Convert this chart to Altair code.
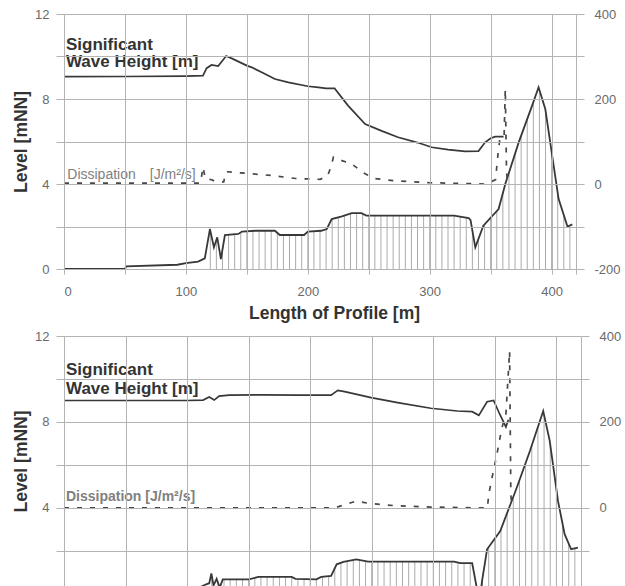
import altair as alt
import pandas as pd

# ---------------- data ----------------
# upper panel: bed level [mNN]
top_bed_x = [0, 50, 51, 93, 100, 110, 115.5, 119.7, 123, 125.7, 128.7, 132, 143, 146, 157, 173, 177,
             197, 200, 211, 215.5, 219.6, 228, 236, 244, 248, 320, 332, 333.5, 337.4, 344, 356.5, 362,
             373, 384, 389.3, 394.8, 405.7, 413, 417]
top_bed_z = [0, 0, 0.12, 0.2, 0.28, 0.35, 0.5, 1.88, 1.02, 1.49, 0.47, 1.6, 1.65, 1.76, 1.8, 1.8, 1.6,
             1.6, 1.76, 1.8, 1.88, 2.35, 2.48, 2.63, 2.63, 2.51, 2.51, 2.4, 2.3, 1.02, 2.04, 2.82, 4.0,
             5.96, 7.69, 8.55, 7.53, 3.3, 2.0, 2.1]
# upper panel: significant wave height line (plotted on level axis)
top_wave_x = [0, 50, 100, 114, 117, 121, 126.5, 133, 138, 150, 154, 165, 173, 184, 200, 208.6, 215,
              222, 233, 247, 260.5, 274, 290, 301.6, 315, 329, 340, 345.5, 350, 353.7, 360.6]
top_wave_h = [9.05, 9.06, 9.08, 9.1, 9.45, 9.6, 9.55, 10.02, 9.9, 9.57, 9.49, 9.18, 8.94, 8.78, 8.6,
              8.55, 8.5, 8.5, 7.69, 6.82, 6.5, 6.2, 5.95, 5.73, 5.62, 5.54, 5.55, 5.96, 6.15, 6.23, 6.23]
# upper panel: dissipation [J/m2/s] (right axis)
top_diss_x = [0, 50, 100, 112, 114, 116, 121, 125, 131, 133, 150, 170, 190, 200, 210, 216, 219, 221,
              228, 236, 247, 255, 270, 300, 330, 345, 350, 354, 356, 357.5, 361, 362, 363, 364]
top_diss_j = [2, 2, 2, 2, 40, 12, 10, 5, 5, 29, 25, 20, 13, 12, 11, 18, 40, 63, 55, 47, 24, 13, 8, 3,
              1, 0, 5, 10, 70, 106, 110, 223, 30, 0]

# lower panel
bot_bed_x = [0, 50, 51, 100, 110, 115.5, 118, 119.7, 121.5, 124, 126.5, 129, 150, 158, 185, 188, 205,
             209, 217, 221.5, 227, 237.5, 247, 316.8, 322, 331.6, 335.6, 337.5, 339.6, 343.7, 354.4,
             367.8, 378.5, 389.3, 394.6, 401.3, 406.7, 412, 417.5]
bot_bed_z = [0, 0, 0.1, 0.2, 0.3, 0.45, 0.5, 0.95, 0.4, 0.7, 0.3, 0.68, 0.68, 0.79, 0.79, 0.7, 0.68,
             0.79, 0.84, 1.38, 1.49, 1.61, 1.5, 1.5, 1.43, 1.43, 0.2, -0.4, 0.6, 2.08, 2.93,
             4.94, 6.65, 8.51, 7.12, 4.33, 2.78, 2.08, 2.15]
bot_wave_x = [0, 50, 100, 113, 118, 122, 126, 134, 160, 190, 217, 222.4, 228, 249.5, 271, 298, 319.5,
              331.6, 337, 343.7, 349, 354, 359, 361]
bot_wave_h = [9.0, 9.0, 9.0, 9.02, 9.16, 9.02, 9.2, 9.25, 9.26, 9.25, 9.25, 9.47, 9.41, 9.13, 8.9, 8.64,
              8.51, 8.48, 8.31, 8.94, 9.0, 8.36, 7.77, 8.1]
bot_diss_x = [0, 100, 200, 215, 223, 237.5, 247, 270, 300, 340, 344, 345, 347.7, 351.7, 355.7, 359,
              362, 363, 364]
bot_diss_j = [0, 0, 0, 0, 3, 16, 11, 5, 2, 0, 0, 31, 70, 125, 186, 218, 365, 30, 0]

x_grid = [0, 50, 100, 150, 200, 250, 300, 350, 400, 420]
level_ticks = [0, 2, 4, 6, 8, 10, 12]
diss_ticks = [-200, -100, 0, 100, 200, 300, 400]

# ---------------- styling ----------------
FONT = "Liberation Sans"
GRID = "#b3b3b3"
LINE = "#383838"
LABEL = "#6a6a6a"
TITLE = "#333333"


def panel(bed_x, bed_z, wave_x, wave_h, diss_x, diss_j, ymin, height, width, is_top):
    bed = pd.DataFrame({"x": bed_x, "z": bed_z})
    wave = pd.DataFrame({"x": wave_x, "h": wave_h})
    diss = pd.DataFrame({"x": diss_x, "j": diss_j})

    xs = alt.Scale(domain=[0, 420], nice=False, zero=False)
    ys = alt.Scale(domain=[ymin, 12], nice=False, zero=False)
    js = alt.Scale(domain=[-200 + ymin * 50, 400], nice=False, zero=False)

    if is_top:
        xaxis = alt.Axis(values=x_grid,
                         labelExpr="(datum.value % 100 == 0 && datum.value <= 400) ? datum.label : ''",
                         grid=True, gridColor=GRID, tickColor=GRID, tickSize=5, domain=False,
                         labelFont=FONT, labelFontSize=13, labelColor=LABEL, labelPadding=11,
                         title="Length of Profile [m]", titleFont=FONT, titleFontSize=17.5,
                         titleFontWeight="bold", titleColor=TITLE, titlePadding=6, titleX=270,
                         zindex=1)
    else:
        xaxis = alt.Axis(values=x_grid, labels=False, ticks=False, domain=False, grid=True,
                         gridColor=GRID, title=None, zindex=1)

    yaxis = alt.Axis(values=level_ticks,
                     labelExpr="datum.value % 4 == 0 ? datum.label : ''",
                     grid=True, gridColor=GRID, tickColor=GRID, tickSize=8, domain=False,
                     labelFont=FONT, labelFontSize=13, labelColor=LABEL, labelPadding=7,
                     title="Level [mNN]", titleFont=FONT, titleFontSize=17.5, titleFontWeight="bold",
                     titleColor=TITLE, titlePadding=4, zindex=1)

    jaxis = alt.Axis(orient="right", values=diss_ticks,
                     labelExpr="datum.value % 200 == 0 ? (datum.value < 0 ? '-' + abs(datum.value) : '' + datum.value) : ''",
                     grid=False, tickColor=GRID, tickSize=8, domain=False,
                     labelFont=FONT, labelFontSize=13, labelColor=LABEL, labelPadding=10, title=None)

    hatch = alt.Chart(alt.sequence(120, 420, 5, as_="x")).transform_calculate(
        y0="0", y1="12"
    ).mark_rule(color="#ababab", strokeWidth=1, clip=True).encode(
        x=alt.X("x:Q", scale=xs, axis=xaxis),
        y=alt.Y("y0:Q", scale=ys, axis=yaxis),
        y2="y1:Q",
    )
    mask = alt.Chart(bed).transform_calculate(top="12").mark_area(
        color="white", opacity=1, clip=True
    ).encode(x="x:Q", y="z:Q", y2="top:Q")
    bed_line = alt.Chart(bed).mark_line(color=LINE, strokeWidth=1.8, clip=True).encode(
        x="x:Q", y="z:Q")
    wave_line = alt.Chart(wave).mark_line(color=LINE, strokeWidth=1.7, clip=True).encode(
        x="x:Q", y="h:Q")

    if is_top:
        wl = pd.DataFrame({"x": [1.6, 1.6], "y": [10.32, 9.5], "t": ["Significant", "Wave Height [m]"]})
        dl = pd.DataFrame({"x": [2.7, 70.4], "y": [4.24, 4.24], "t": ["Dissipation", "[J/m\u00b2/s]"]})
        dweight = "normal"
    else:
        wl = pd.DataFrame({"x": [1.6, 1.6], "y": [10.19, 9.29], "t": ["Significant", "Wave Height [m]"]})
        dl = pd.DataFrame({"x": [1.6], "y": [4.31], "t": ["Dissipation [J/m\u00b2/s]"]})
        dweight = "bold"
    wtext = alt.Chart(wl).mark_text(align="left", baseline="alphabetic", font=FONT, fontSize=17,
                                    fontWeight="bold", color=TITLE).encode(
        x="x:Q", y="y:Q", text="t:N")
    dtext = alt.Chart(dl).mark_text(align="left", baseline="alphabetic", font=FONT, fontSize=14,
                                    fontWeight=dweight, color="#808080").encode(
        x="x:Q", y="y:Q", text="t:N")

    level_layer = alt.layer(hatch, mask, bed_line, wave_line, wtext, dtext)

    diss_line = alt.Chart(diss).mark_line(color="#474747", strokeWidth=1.7, strokeDash=[5, 8],
                                          clip=True).encode(
        x="x:Q", y=alt.Y("j:Q", scale=js, axis=jaxis))

    return alt.layer(level_layer, diss_line).resolve_scale(y="independent").properties(
        width=width, height=height)


top = panel(top_bed_x, top_bed_z, top_wave_x, top_wave_h, top_diss_x, top_diss_j,
            0, 255, 512, True)
bottom = panel(bot_bed_x, bot_bed_z, bot_wave_x, bot_wave_h, bot_diss_x, bot_diss_j,
               0.37, 250, 517, False)

chart = alt.vconcat(top, bottom, spacing=7).properties(
    padding={"left": 12, "top": 7, "right": 0, "bottom": 0}
).configure_view(stroke=None).configure(background="white")

chart.save("out.html", embed_options={"renderer": "svg", "actions": False})
